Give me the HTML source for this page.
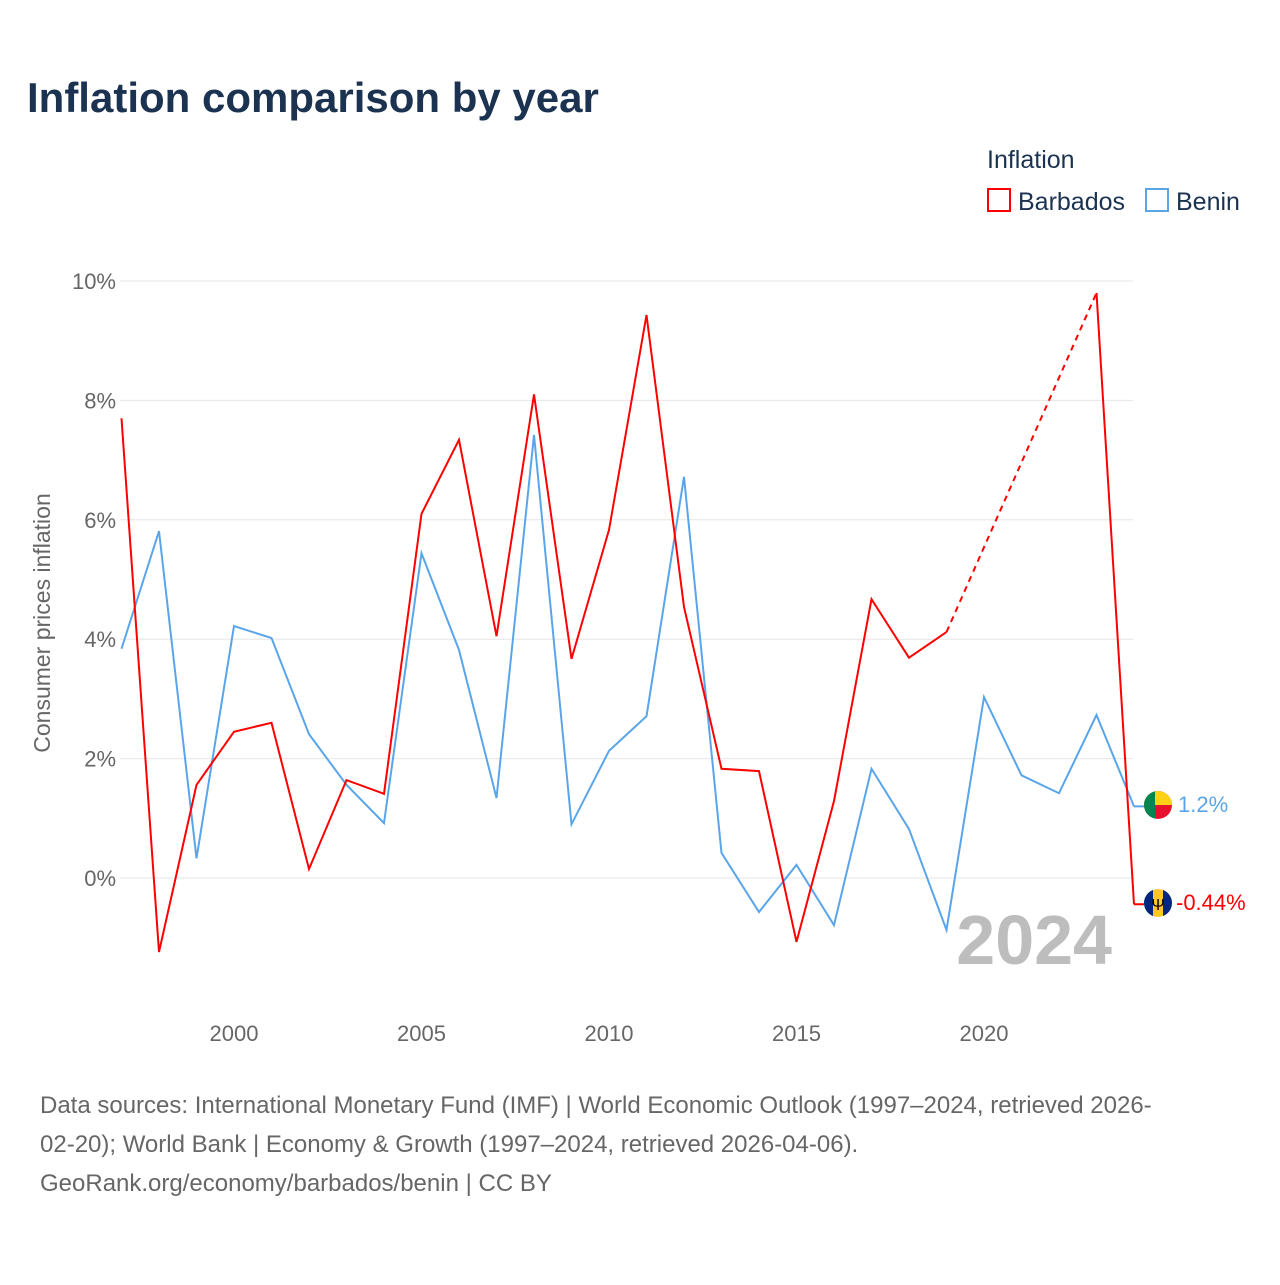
<!DOCTYPE html>
<html><head><meta charset="utf-8"><style>
body{margin:0;background:#fff;width:1280px;height:1280px;overflow:hidden;font-family:"Liberation Sans",sans-serif}
</style></head><body>
<svg width="1280" height="1280">
<text x="27" y="112" font-size="42" font-weight="bold" fill="#1b3350">Inflation comparison by year</text>
<text x="987" y="168" font-size="25" fill="#1b3350">Inflation</text>
<g><rect x="988" y="189" width="22" height="22" fill="none" stroke="#ff0000" stroke-width="2"/><text x="1018" y="210" font-size="25" fill="#1b3350">Barbados</text></g>
<g><rect x="1146" y="189" width="22" height="22" fill="none" stroke="#5aa5ea" stroke-width="2"/><text x="1176" y="210" font-size="25" fill="#1b3350">Benin</text></g>
<g id="grid"></g><g id="yt"></g><g id="xt"></g>
<text transform="translate(50,623) rotate(-90)" text-anchor="middle" font-size="23" fill="#666">Consumer prices inflation</text>
<text x="1112" y="964" text-anchor="end" font-size="70" font-weight="bold" fill="#bdbdbd">2024</text>
<g id="series"></g>
<g><clipPath id="c1"><circle cx="1158" cy="805" r="14"/></clipPath><g clip-path="url(#c1)"><rect x="1144" y="791" width="28" height="28" fill="#e8112d"/><rect x="1144" y="791" width="28" height="14" fill="#fcd116"/><rect x="1144" y="791" width="11" height="28" fill="#008751"/></g></g>
<text x="1178" y="812" font-size="22" fill="#5aa5ea">1.2%</text>
<g><clipPath id="c2"><circle cx="1158" cy="903" r="14"/></clipPath><g clip-path="url(#c2)"><rect x="1144" y="889" width="28" height="28" fill="#ffc726"/><rect x="1144" y="889" width="9" height="28" fill="#00267f"/><rect x="1163" y="889" width="9" height="28" fill="#00267f"/></g><text x="1158" y="910" font-size="16" text-anchor="middle" fill="#000">Ψ</text></g>
<text x="1176" y="910" font-size="22" fill="#ff0000">-0.44%</text>
<text font-size="24" fill="#666"><tspan x="40" y="1113">Data sources: International Monetary Fund (IMF) | World Economic Outlook (1997–2024, retrieved 2026-</tspan><tspan x="40" y="1152">02-20); World Bank | Economy &amp; Growth (1997–2024, retrieved 2026-04-06).</tspan><tspan x="40" y="1191">GeoRank.org/economy/barbados/benin | CC BY</tspan></text>
</svg>
<script>
const years=[1997,1998,1999,2000,2001,2002,2003,2004,2005,2006,2007,2008,2009,2010,2011,2012,2013,2014,2015,2016,2017,2018,2019,2020,2021,2022,2023,2024];
const barbados=[7.7,-1.24,1.56,2.45,2.6,0.15,1.64,1.41,6.1,7.34,4.05,8.1,3.67,5.83,9.43,4.54,1.83,1.79,-1.07,1.29,4.67,3.69,4.12,null,null,null,9.8,-0.44];
const benin=[3.84,5.81,0.33,4.22,4.02,2.41,1.56,0.92,5.44,3.82,1.34,7.42,0.9,2.13,2.71,6.72,0.42,-0.57,0.22,-0.79,1.83,0.82,-0.87,3.03,1.72,1.42,2.73,1.2];
const yTicks=[0,2,4,6,8,10];
const xTicks=[2000,2005,2010,2015,2020];
const NS="http://www.w3.org/2000/svg";
const X=y=>121.5+(y-1997)*37.5, Y=v=>878-v*59.7;
function mk(t,a,p){const e=document.createElementNS(NS,t);for(const k in a)e.setAttribute(k,a[k]);p.appendChild(e);return e;}
const grid=document.getElementById('grid'),yt=document.getElementById('yt'),xt=document.getElementById('xt'),ser=document.getElementById('series');
yTicks.forEach(v=>{const l=mk('line',{x1:120,x2:1133,y1:Y(v),y2:Y(v),stroke:'#e6e6e6'},grid);


const t=mk('text',{x:116,y:Y(v)+8,'text-anchor':'end','font-size':22,fill:'#666'},yt);t.textContent=v+'%';

});
xTicks.forEach(v=>{const t=mk('text',{x:X(v),y:1041,'text-anchor':'middle','font-size':22,fill:'#666'},xt);t.textContent=v;

});
function draw(vals,col,name){let segs=[],cur=[];vals.forEach((v,i)=>{if(v==null){if(cur.length)segs.push(cur);cur=[];}else cur.push([X(years[i]),Y(v)]);});if(cur.length)segs.push(cur);
segs.forEach(s=>{const p=mk('polyline',{points:s.map(q=>q.join(',')).join(' '),fill:'none',stroke:col,'stroke-width':2},ser);

});
for(let i=0;i<vals.length;i++){if(vals[i]==null){let a=i-1;let b=i;while(vals[b]==null)b++;const d=mk('line',{x1:X(years[a]),y1:Y(vals[a]),x2:X(years[b]),y2:Y(vals[b]),stroke:col,'stroke-width':2,'stroke-dasharray':'6,5'},ser);


i=b;}}
const last=vals[vals.length-1];const e=mk('line',{x1:X(years[years.length-1]),x2:1144,y1:Y(last),y2:Y(last),stroke:col,'stroke-width':2},ser);

}
draw(benin,'#5aa5ea','benin');
draw(barbados,'#ff0000','barbados');
</script>
</body></html>
